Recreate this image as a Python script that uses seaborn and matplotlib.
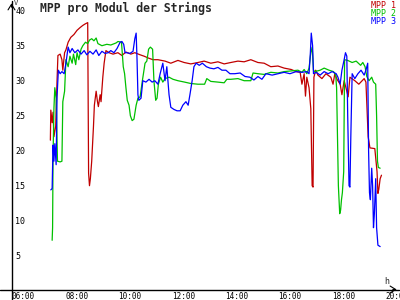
import pandas as pd
import matplotlib
matplotlib.use("Agg")
import matplotlib.pyplot as plt
import seaborn as sns
from matplotlib.lines import Line2D
from matplotlib.transforms import ScaledTranslation

title = "MPP pro Modul der Strings"
series_names = ["MPP 1", "MPP 2", "MPP 3"]
series_colors = ["#c00000", "#00c000", "#0000ff"]
x_ticks = [6, 8, 10, 12, 14, 16, 18, 20]
x_tick_labels = ["06:00", "08:00", "10:00", "12:00", "14:00", "16:00", "18:00", "20:00"]
y_ticks = [5, 10, 15, 20, 25, 30, 35, 40]
y_unit = "V"
x_unit = "h"

mpp1_time = ["07:18", "07:19", "07:22", "07:24", "07:26", "07:30", "07:33", "07:35", "07:40", "07:44",
             "07:46", "07:50", "07:53", "07:58", "08:04", "08:11", "08:18", "08:25", "08:31", "08:36",
             "08:42", "08:44", "08:46", "08:48", "08:51", "08:53", "08:55", "08:57", "09:01", "09:04",
             "09:06", "09:10", "09:12", "09:16", "09:19", "09:23", "09:30", "09:39", "09:50", "09:59",
             "10:08", "10:19", "10:28", "10:40", "10:49", "11:00", "11:09", "11:20", "11:36", "11:49",
             "12:05", "12:19", "12:34", "12:50", "13:04", "13:19", "13:35", "13:49", "14:04", "14:20",
             "14:34", "14:49", "15:05", "15:19", "15:34", "15:50", "16:04", "16:20", "16:31", "16:40",
             "16:44", "16:49", "16:52", "16:55", "17:00", "17:04", "17:07", "17:09", "17:11", "17:15",
             "17:20", "17:29", "17:38", "17:49", "17:54", "17:58", "18:03", "18:10", "18:14", "18:19",
             "18:23", "18:28", "18:32", "18:43", "18:52", "19:04", "19:08", "19:13", "19:17", "19:28",
             "19:33", "19:35", "19:37", "19:40", "19:43"]
mpp1_value = [21.5, 25.8, 24.0, 25.5, 22.0, 23.5, 30.0, 33.6, 33.8, 33.0,
              31.5, 34.0, 34.4, 35.5, 36.2, 36.6, 37.2, 37.6, 37.9, 38.1,
              38.3, 16.8, 15.0, 16.0, 18.5, 21.0, 23.5, 26.5, 28.5, 27.0,
              26.3, 28.0, 27.0, 30.5, 32.5, 34.3, 34.0, 33.8, 34.0, 33.6,
              34.1, 33.8, 34.0, 33.7, 33.5, 33.2, 33.0, 33.0, 32.8, 32.5,
              32.9, 32.6, 32.4, 32.6, 32.8, 32.5, 32.7, 32.4, 32.6, 32.8,
              32.7, 33.0, 32.6, 32.5, 32.0, 32.1, 31.8, 31.6, 31.3, 31.2,
              29.5, 31.0, 27.8, 30.5, 29.0, 26.0, 15.0, 14.8, 30.5, 31.5,
              30.8, 30.3, 31.0, 30.5, 29.5, 31.0, 30.2, 29.5, 28.0, 30.0,
              29.0, 27.7, 30.5, 30.0, 29.5, 30.3, 29.8, 22.0, 20.4, 20.3,
              17.0, 13.9, 14.5, 16.0, 16.5]

mpp2_time = ["07:22", "07:23", "07:24", "07:26", "07:28", "07:31", "07:34", "07:40", "07:44", "07:46",
             "07:50", "07:53", "07:58", "08:02", "08:07", "08:10", "08:15", "08:18", "08:22", "08:27",
             "08:31", "08:37", "08:42", "08:46", "08:51", "08:56", "09:01", "09:05", "09:14", "09:25",
             "09:34", "09:46", "09:50", "09:58", "10:02", "10:05", "10:08", "10:11", "10:15", "10:18",
             "10:22", "10:26", "10:31", "10:35", "10:40", "10:45", "10:51", "10:55", "10:59", "11:03",
             "11:08", "11:11", "11:15", "11:18", "11:21", "11:26", "11:31", "11:36", "11:45", "11:54",
             "12:05", "12:20", "12:34", "12:50", "13:05", "13:10", "13:19", "13:35", "13:49", "13:55",
             "14:04", "14:20", "14:34", "14:49", "14:54", "15:05", "15:19", "15:34", "15:50", "16:04",
             "16:20", "16:35", "16:44", "16:49", "16:55", "17:00", "17:04", "17:07", "17:10", "17:13",
             "17:25", "17:34", "17:45", "17:55", "18:00", "18:02", "18:04", "18:06", "18:09", "18:11",
             "18:13", "18:15", "18:18", "18:20", "18:27", "18:37", "18:46", "18:56", "19:01", "19:06",
             "19:10", "19:15", "19:21", "19:25", "19:30", "19:32", "19:34", "19:36", "19:40"]
mpp2_value = [7.2, 9.0, 19.0, 26.0, 29.0, 27.5, 18.5, 18.4, 18.5, 27.0,
              28.5, 33.0, 32.0, 33.5, 32.5, 33.8, 32.3, 34.0, 33.0, 34.5,
              35.0, 35.5, 35.3, 35.8, 36.0, 35.7, 36.1, 35.3, 35.0, 35.2,
              35.1, 35.4, 35.6, 35.5, 32.0, 31.0, 29.0, 27.2, 26.5, 25.0,
              24.3, 24.5, 26.5, 27.5, 27.7, 30.0, 32.5, 32.8, 34.5, 34.8,
              34.5, 30.0, 27.2, 27.5, 29.5, 30.5, 29.8, 30.3, 30.5, 30.2,
              30.0, 29.8, 29.6, 29.5, 29.5, 30.3, 29.9, 29.8, 29.7, 30.2,
              30.2, 30.3, 30.0, 30.0, 31.1, 31.0, 30.9, 31.2, 31.1, 31.3,
              31.4, 31.5, 31.2, 31.6, 31.0, 31.8, 34.0, 34.8, 31.5, 31.3,
              31.5, 31.8, 31.5, 31.3, 30.8, 29.0, 22.0, 15.0, 11.0, 11.5,
              13.0, 14.0, 17.0, 33.0, 32.9, 32.6, 32.8, 32.2, 32.6, 32.0,
              30.6, 30.0, 30.5, 29.8, 29.5, 25.0, 18.5, 17.6, 17.5]

mpp3_time = ["07:19", "07:22", "07:24", "07:26", "07:28", "07:31", "07:33", "07:36", "07:40", "07:44",
             "07:49", "07:53", "07:58", "08:02", "08:07", "08:13", "08:20", "08:27", "08:34", "08:40",
             "08:47", "08:54", "09:01", "09:07", "09:14", "09:21", "09:28", "09:34", "09:41", "09:48",
             "09:55", "09:59", "10:03", "10:06", "10:10", "10:17", "10:24", "10:28", "10:31", "10:33",
             "10:35", "10:37", "10:42", "10:46", "10:53", "11:00", "11:07", "11:13", "11:20", "11:25",
             "11:31", "11:36", "11:40", "11:45", "11:49", "11:56", "12:03", "12:10", "12:16", "12:23",
             "12:28", "12:32", "12:37", "12:41", "12:46", "12:53", "13:00", "13:09", "13:17", "13:26",
             "13:35", "13:44", "13:53", "14:02", "14:13", "14:25", "14:36", "14:47", "14:56", "15:05",
             "15:14", "15:23", "15:37", "15:50", "16:04", "16:17", "16:31", "16:44", "16:55", "17:00",
             "17:03", "17:05", "17:08", "17:10", "17:16", "17:25", "17:34", "17:43", "17:52", "18:01",
             "18:05", "18:10", "18:14", "18:19", "18:22", "18:25", "18:27", "18:30", "18:32", "18:34",
             "18:37", "18:43", "18:50", "18:57", "19:04", "19:08", "19:12", "19:14", "19:16", "19:18",
             "19:21", "19:23", "19:25", "19:27", "19:30", "19:32", "19:35", "19:40"]
mpp3_value = [14.4, 14.6, 20.8, 18.5, 21.0, 18.0, 27.7, 31.5, 31.0, 31.3,
              31.0, 32.5, 34.8, 34.0, 34.6, 34.0, 34.4, 33.8, 34.3, 33.7,
              34.2, 33.8, 34.4, 33.6, 34.2, 33.9, 34.0, 34.3, 34.0, 34.6,
              35.5, 35.6, 35.2, 34.0, 34.0, 33.9, 34.2, 36.0, 36.8, 33.0,
              28.0, 27.2, 27.5, 30.0, 29.8, 30.2, 29.8, 30.0, 29.5, 31.0,
              32.5, 30.0, 32.0, 28.0, 26.2, 25.9, 25.7, 25.7, 26.5, 27.0,
              26.5, 28.0, 30.0, 32.0, 32.5, 32.2, 32.5, 32.0, 31.8, 31.7,
              31.9, 31.5, 31.5, 31.0, 31.0, 31.1, 30.6, 30.5, 30.1, 30.6,
              30.2, 31.0, 30.8, 31.0, 31.2, 31.0, 31.3, 31.2, 31.3, 31.0,
              34.0, 36.8, 35.0, 31.0, 31.2, 30.8, 31.3, 31.0, 31.3, 31.0,
              30.5, 29.5, 31.5, 33.0, 34.0, 33.5, 25.0, 15.0, 14.8, 22.0,
              31.0, 30.3, 31.0, 31.5, 30.8, 31.5, 32.5, 20.0, 14.0, 13.0,
              17.5, 15.0, 9.0, 11.0, 16.0, 9.0, 6.5, 6.3]


def to_hours(stamps):
    return [int(s[:2]) + int(s[3:]) / 60 for s in stamps]


frames = []
for name, times, values in zip(series_names,
                               [mpp1_time, mpp2_time, mpp3_time],
                               [mpp1_value, mpp2_value, mpp3_value]):
    frames.append(pd.DataFrame({"hours": to_hours(times), "value": values, "series": name}))
df = pd.concat(frames, ignore_index=True)

sns.set_style("white")
plt.rcParams["font.family"] = ["DejaVu Sans Mono"]

W, H = 400, 300
fig = plt.figure(figsize=(4, 3), dpi=100)
fig.patch.set_facecolor("white")
L = 11.5 / W
B = 10.5 / H
ax = fig.add_axes([L, B, 1 - L, 1 - B])
ax.set_facecolor("white")

palette = dict(zip(series_names, series_colors))
sns.lineplot(data=df, x="hours", y="value", hue="series", palette=palette,
             estimator=None, sort=False, legend=False, linewidth=0.9, ax=ax)

ax.set_xlim(5.8425, 20.411)
ax.set_ylim(0.17, 41.53)
ax.set_xlabel("")
ax.set_ylabel("")
for sp in ax.spines.values():
    sp.set_visible(False)

ax.set_xticks(x_ticks)
ax.set_xticklabels(x_tick_labels)
ax.set_yticks(y_ticks)
ax.set_yticklabels([str(v) for v in y_ticks])
ax.tick_params(axis="x", direction="inout", length=6, width=1, pad=-1.2,
               labelsize=5.5, colors="black")
ax.tick_params(axis="y", direction="inout", length=6, width=1, pad=-5.8,
               labelsize=6, colors="black")
for lab in ax.get_yticklabels():
    lab.set_horizontalalignment("left")
for lab in ax.get_xticklabels():
    lab.set_horizontalalignment("left")
    lab.set_transform(lab.get_transform() + ScaledTranslation(-4 / 100, 0, fig.dpi_scale_trans))

# axis lines extending past the plotting region
fig.add_artist(Line2D([0, 399 / W], [B, B], transform=fig.transFigure, color="black", lw=1))
fig.add_artist(Line2D([L, L], [0, 299 / H], transform=fig.transFigure, color="black", lw=1))
ax.annotate("", xy=(399.5, 10.5), xytext=(390, 10.5), xycoords="figure pixels",
            textcoords="figure pixels",
            arrowprops=dict(arrowstyle="->,head_length=0.4,head_width=0.25", lw=0.8, color="black"))
ax.annotate("", xy=(11.5, 299.5), xytext=(11.5, 290), xycoords="figure pixels",
            textcoords="figure pixels",
            arrowprops=dict(arrowstyle="->,head_length=0.4,head_width=0.25", lw=0.8, color="black"))

fig.text(40 / W, 1 - 2 / H, title, fontsize=8.3, fontweight="bold", ha="left", va="top")
for i, (name, col) in enumerate(zip(series_names, series_colors)):
    fig.text(396 / W, 1 - (1 + 8 * i) / H, name, color=col, fontsize=6, ha="right", va="top")
fig.text(14 / W, 1 - 0.2 / H, y_unit, fontsize=5, ha="left", va="top")
fig.text(387 / W, 16 / H, x_unit, fontsize=6, ha="center", va="baseline")

fig.savefig("out.png", dpi=100)
